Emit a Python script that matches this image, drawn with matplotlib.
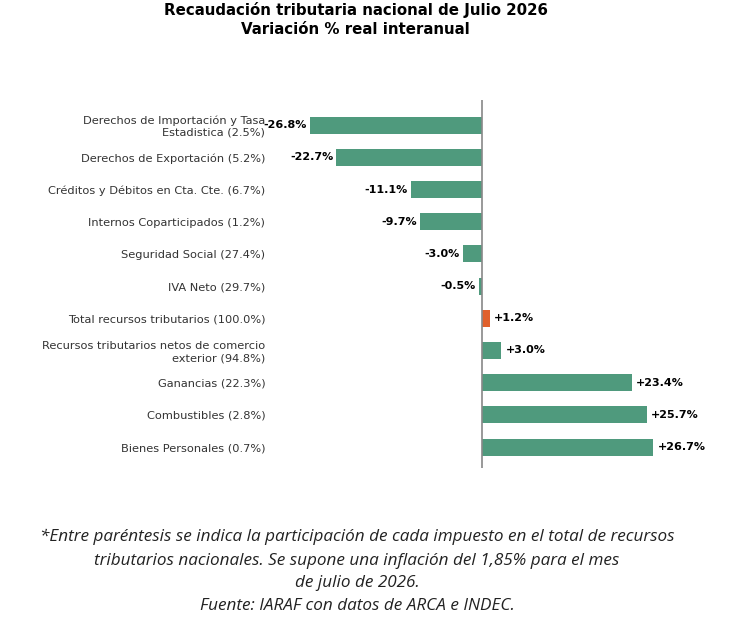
import matplotlib
matplotlib.use("Agg")
import matplotlib.pyplot as plt

categorias = [
    "Derechos de Importación y Tasa\nEstadistica (2.5%)",
    "Derechos de Exportación (5.2%)",
    "Créditos y Débitos en Cta. Cte. (6.7%)",
    "Internos Coparticipados (1.2%)",
    "Seguridad Social (27.4%)",
    "IVA Neto (29.7%)",
    "Total recursos tributarios (100.0%)",
    "Recursos tributarios netos de comercio\nexterior (94.8%)",
    "Ganancias (22.3%)",
    "Combustibles (2.8%)",
    "Bienes Personales (0.7%)",
]
variacion = [-26.8, -22.7, -11.1, -9.7, -3.0, -0.5, 1.2, 3.0, 23.4, 25.7, 26.7]
total = "Total recursos tributarios (100.0%)"

verde = "#4f9a7d"
naranja = "#e0602c"
colores = [naranja if c == total else verde for c in categorias]

fig = plt.figure(figsize=(7.3, 6.32), dpi=100)
ax = fig.add_axes([0.37, 1 - 468 / 632, 0.62, 368 / 632])

y = list(range(len(categorias)))
ax.barh(y, variacion, height=0.53, color=colores)
ax.axvline(0, color="#888888", lw=1.2)

for yi, v in zip(y, variacion):
    txt = f"{v:+.1f}%"
    if v < 0:
        ax.annotate(txt, (v, yi), xytext=(-2, 0), textcoords="offset points",
                    ha="right", va="center", fontsize=8.0, fontweight="bold")
    else:
        ax.annotate(txt, (v, yi), xytext=(3, 0), textcoords="offset points",
                    ha="left", va="center", fontsize=8.0, fontweight="bold")

ax.set_xlim(-33.0, 37.5)
ax.set_ylim(len(categorias) - 1 + 0.65, -0.78)
ax.set_yticks(y)
ax.set_yticklabels(categorias, fontsize=8.2, color="#333333")
ax.tick_params(axis="y", length=0, pad=3.5)
ax.set_xticks([])
for s in ax.spines.values():
    s.set_visible(False)

fig.text(0.487, 1 - 10 / 632, "Recaudación tributaria nacional de Julio 2026",
         ha="center", va="center", fontsize=10.8, fontweight="bold")
fig.text(0.487, 1 - 30 / 632, "Variación % real interanual",
         ha="center", va="center", fontsize=10.8, fontweight="bold")

nota = [
    "*Entre paréntesis se indica la participación de cada impuesto en el total de recursos",
    "tributarios nacionales. Se supone una inflación del 1,85% para el mes",
    "de julio de 2026.",
    "Fuente: IARAF con datos de ARCA e INDEC.",
]
ys = [537, 561, 583, 606]
for linea, yy in zip(nota, ys):
    fig.text(0.489, 1 - yy / 632, linea, ha="center", va="center",
             fontsize=12.3, style="italic", family="Open Sans", color="#222222")

fig.savefig("out.png", dpi=100)
